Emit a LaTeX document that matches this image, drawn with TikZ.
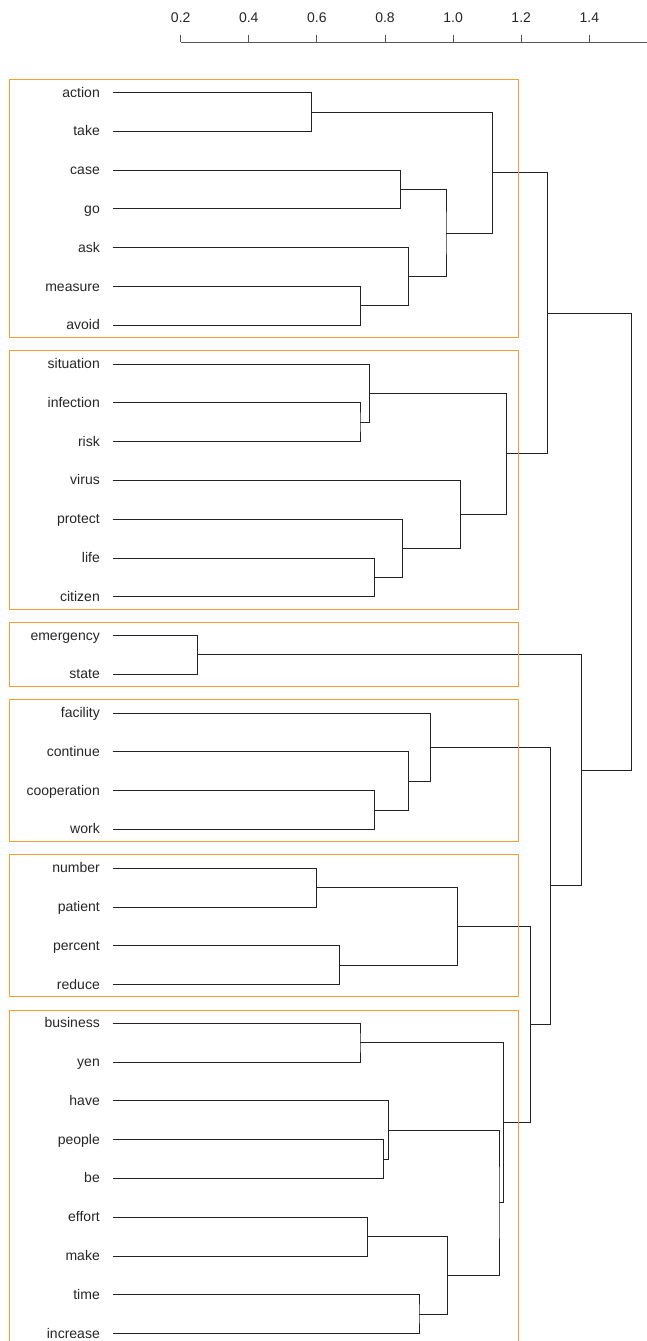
\documentclass[tikz,border=0pt]{standalone}
\usepackage{fontspec}
\setmainfont{Liberation Sans}
\usetikzlibrary{calc}
\definecolor{boxorange}{RGB}{246,158,50}
\definecolor{dline}{RGB}{35,35,35}
\definecolor{axisgrey}{RGB}{85,85,85}
\tikzset{
  lab/.style={anchor=base east, inner sep=0pt, font=\fontsize{14}{16}\selectfont, text=black!85},
  axlab/.style={anchor=base, inner sep=0pt, font=\fontsize{14}{16}\selectfont, text=black!85},
  dendro/.style={draw=dline, line width=0.9pt},
  grpbox/.style={draw=boxorange, line width=1pt},
  axisline/.style={draw=axisgrey, line width=1pt},
}
\newcommand\leafrow[3]{%
  \node[lab] (t#1) at ({100},{#2+4.5}) {#3};
  \coordinate (#1) at ({112.7},{#2});
}
\newcommand\mrg[4]{%
  \coordinate (#1mid) at ($(#3)!0.5!(#4)$);
  \coordinate (#1x) at ({#2},0);
  \coordinate (#1) at (#1mid -| #1x);
  \draw[dendro] (#3) -| (#1) |- (#4);
}
\begin{document}
\begin{tikzpicture}[x=1pt,y=-1pt]
\useasboundingbox (0,0) rectangle (647,1341);
\clip (0,0) rectangle (647,1341);
% axis
\draw[axisline] (180.7,42.3) -- (647,42.3);
\foreach \v/\xx [count=\i] in {0.2/180.7,0.4/248.8,0.6/316.9,0.8/385.0,1.0/453.1,1.2/521.2,1.4/589.3}{
  \draw[axisline] (\xx,35) -- (\xx,42.3);
  \node[axlab] (ax\i) at (\xx,22.7) {\v};
}
% leaves
\leafrow{action}{92.6}{action}
\leafrow{take}{131.38}{take}
\leafrow{case}{170.16}{case}
\leafrow{go}{208.94}{go}
\leafrow{ask}{247.72}{ask}
\leafrow{measure}{286.5}{measure}
\leafrow{avoid}{325.28}{avoid}
\leafrow{situation}{364.06}{situation}
\leafrow{infection}{402.84}{infection}
\leafrow{risk}{441.62}{risk}
\leafrow{virus}{480.4}{virus}
\leafrow{protect}{519.18}{protect}
\leafrow{life}{557.96}{life}
\leafrow{citizen}{596.74}{citizen}
\leafrow{emergency}{635.52}{emergency}
\leafrow{state}{674.3}{state}
\leafrow{facility}{713.08}{facility}
\leafrow{continue}{751.86}{continue}
\leafrow{cooperation}{790.64}{cooperation}
\leafrow{work}{829.42}{work}
\leafrow{number}{868.2}{number}
\leafrow{patient}{906.98}{patient}
\leafrow{percent}{945.76}{percent}
\leafrow{reduce}{984.54}{reduce}
\leafrow{business}{1023.32}{business}
\leafrow{yen}{1062.1}{yen}
\leafrow{have}{1100.88}{have}
\leafrow{people}{1139.66}{people}
\leafrow{be}{1178.44}{be}
\leafrow{effort}{1217.22}{effort}
\leafrow{make}{1256.0}{make}
\leafrow{time}{1294.78}{time}
\leafrow{increase}{1333.56}{increase}
% group 1
\mrg{ma}{311.3}{action}{take}
\mrg{mb}{400.7}{case}{go}
\mrg{mc}{360.3}{measure}{avoid}
\mrg{md}{408.3}{ask}{mc}
\mrg{me}{446.0}{mb}{md}
\mrg{ga}{492.3}{ma}{me}
% group 2
\mrg{mf}{360.0}{infection}{risk}
\mrg{mg}{369.9}{situation}{mf}
\mrg{mh}{374.4}{life}{citizen}
\mrg{mi}{402.1}{protect}{mh}
\mrg{mj}{460.6}{virus}{mi}
\mrg{gb}{506.4}{mg}{mj}
\mrg{gab}{547.6}{ga}{gb}
% group 3
\mrg{gc}{197.5}{emergency}{state}
% group 4
\mrg{mk}{374.4}{cooperation}{work}
\mrg{ml}{408.7}{continue}{mk}
\mrg{gd}{430.1}{facility}{ml}
% group 5
\mrg{mm}{316.7}{number}{patient}
\mrg{mn}{339.4}{percent}{reduce}
\mrg{ge}{457.3}{mm}{mn}
% group 6
\mrg{mo}{360.0}{business}{yen}
\mrg{mp}{383.9}{people}{be}
\mrg{mq}{388.9}{have}{mp}
\mrg{mr}{367.4}{effort}{make}
\mrg{ms}{419.0}{time}{increase}
\mrg{mt}{447.8}{mr}{ms}
\mrg{mu}{499.0}{mq}{mt}
\mrg{gf}{503.9}{mo}{mu}
\mrg{gef}{530.3}{ge}{gf}
\mrg{gdef}{550.5}{gd}{gef}
\mrg{gcdef}{581.9}{gc}{gdef}
\mrg{root}{631.3}{gab}{gcdef}
% cluster boxes
\draw[grpbox] (9.3,79.3) rectangle (518.6,337.6);
\draw[grpbox] (9.3,350.8) rectangle (518.6,609.0);
\draw[grpbox] (9.3,622.2) rectangle (518.6,686.6);
\draw[grpbox] (9.3,699.8) rectangle (518.6,841.7);
\draw[grpbox] (9.3,854.9) rectangle (518.6,996.8);
\draw[grpbox] (9.3,1010.0) rectangle (518.6,1345.9);
\end{tikzpicture}
\end{document}
